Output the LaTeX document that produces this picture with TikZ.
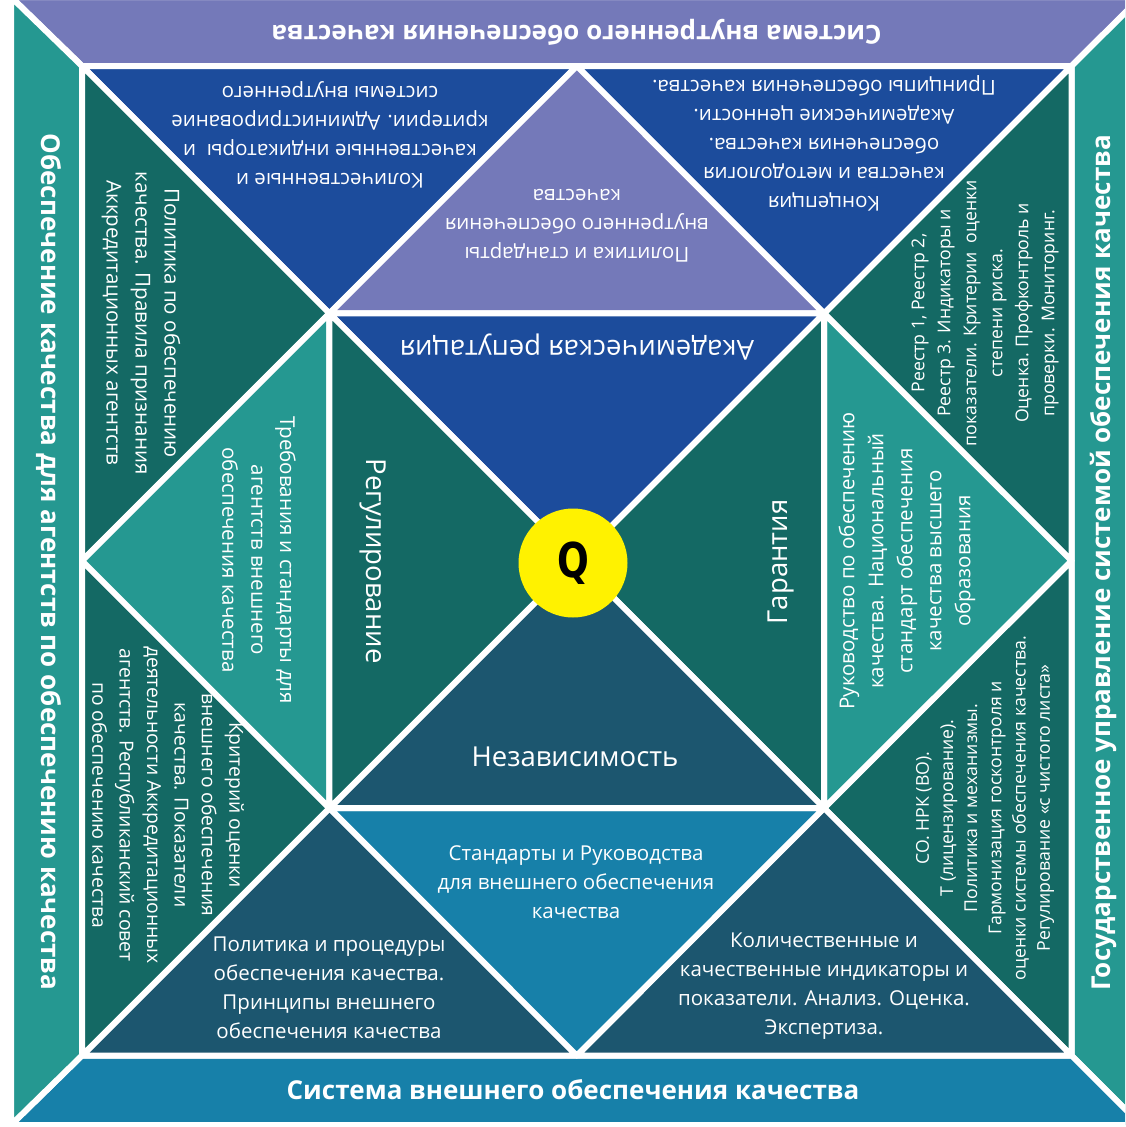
\documentclass[tikz,border=0pt]{standalone}
\usepackage{fontspec}
\usepackage{graphicx}
\setmainfont{Open Sans}
\newfontfamily\qfont{DejaVu Sans}
\definecolor{cpurple}{HTML}{7479B9}
\definecolor{cblue}{HTML}{1C4C9C}
\definecolor{cdgreen}{HTML}{146964}
\definecolor{cteal}{HTML}{259891}
\definecolor{cbblue}{HTML}{1780A9}
\definecolor{cslate}{HTML}{1C566F}
\begin{document}
\begin{tikzpicture}[x=1pt,y=-1pt,
  reg/.style={draw=white, line width=6pt, line join=round},
  txt/.style={text=white, align=center, inner sep=0pt, font=\fontsize{20.5}{29}\selectfont},
  txs/.style={text=white, align=center, inner sep=0pt, font=\fontsize{17.7}{26}\selectfont},
  txr/.style={text=white, align=center, inner sep=0pt, font=\fontsize{17.7}{24.2}\selectfont},
  txm/.style={text=white, align=center, inner sep=0pt, font=\fontsize{19.3}{27.4}\selectfont},
  ttl/.style={text=white, align=center, inner sep=0pt, font=\fontsize{26}{30}\selectfont\bfseries},
  big/.style={text=white, inner sep=0pt, font=\fontsize{27.5}{30}\selectfont}]
\useasboundingbox (0,0) rectangle (1125,1127);
\clip (0,0) rectangle (1125,1127);
% coordinates
\coordinate (O1) at (11,-3);
\coordinate (O2) at (1141,-3);
\coordinate (O3) at (1141,1125);
\coordinate (O4) at (11,1125);
\coordinate (I1) at (82,66);
\coordinate (I2) at (1071.5,66);
\coordinate (I3) at (1071.5,1055.5);
\coordinate (I4) at (82,1055.5);
\coordinate (T) at (576.75,66);
\coordinate (R) at (1071.5,560.75);
\coordinate (B) at (576.75,1055.5);
\coordinate (L) at (82,560.75);
\coordinate (C) at (576.75,560.75);
\coordinate (S1) at (329.4,313.4);
\coordinate (S2) at (824.1,313.4);
\coordinate (S3) at (824.1,808.1);
\coordinate (S4) at (329.4,808.1);
% outer bands
\path[reg, fill=cpurple] (O1) -- (O2) -- (I2) -- (I1) -- cycle;
\path[reg, fill=cteal] (O2) -- (O3) -- (I3) -- (I2) -- cycle;
\path[reg, fill=cbblue] (O3) -- (O4) -- (I4) -- (I3) -- cycle;
\path[reg, fill=cteal] (O4) -- (O1) -- (I1) -- (I4) -- cycle;
% corner triangles
\path[reg, fill=cblue] (I1) -- (T) -- (S1) -- cycle;
\path[reg, fill=cdgreen] (I1) -- (S1) -- (L) -- cycle;
\path[reg, fill=cblue] (T) -- (I2) -- (S2) -- cycle;
\path[reg, fill=cdgreen] (I2) -- (R) -- (S2) -- cycle;
\path[reg, fill=cdgreen] (R) -- (I3) -- (S3) -- cycle;
\path[reg, fill=cslate] (I3) -- (B) -- (S3) -- cycle;
\path[reg, fill=cslate] (B) -- (I4) -- (S4) -- cycle;
\path[reg, fill=cdgreen] (I4) -- (L) -- (S4) -- cycle;
% diamond triangles
\path[reg, fill=cpurple] (T) -- (S2) -- (S1) -- cycle;
\path[reg, fill=cteal] (R) -- (S3) -- (S2) -- cycle;
\path[reg, fill=cbblue] (B) -- (S4) -- (S3) -- cycle;
\path[reg, fill=cteal] (L) -- (S1) -- (S4) -- cycle;
% central triangles
\path[reg, fill=cblue] (S1) -- (S2) -- (C) -- cycle;
\path[reg, fill=cdgreen] (S2) -- (S3) -- (C) -- cycle;
\path[reg, fill=cslate] (S3) -- (S4) -- (C) -- cycle;
\path[reg, fill=cdgreen] (S4) -- (S1) -- (C) -- cycle;
% centre circle
\node[circle, fill=yellow, minimum size=109pt, inner sep=0pt] (q) at (573,563) {\qfont\fontsize{48}{48}\selectfont\bfseries\scalebox{0.78}[1]{Q}};
% titles
\node[ttl, rotate=180] (ttop) at (576.5,32) {Система внутреннего обеспечения качества};
\node[ttl] (tbot) at (573,1090) {Система внешнего обеспечения качества};
\node[ttl, rotate=-90] (tleft) at (49,562) {Обеспечение качества для агентств по обеспечению качества};
\node[ttl, rotate=90] (tright) at (1103,563) {Государственное управление системой обеспечения качества};
% central labels
\node[big, rotate=180] (acad) at (577,347) {Академическая репутация};
\node[big, rotate=-90] (regul) at (373,561) {Регулирование};
\node[big, rotate=90] (garant) at (781,562) {Гарантия};
\node[big] (indep) at (575,757) {Независимость};
% diamond triangles text
\node[txt, rotate=180] (polint) at (577,226) {Политика и стандарты\\внутреннего обеспечения\\качества};
\node[txt, rotate=-90] (treb) at (259,560) {Требования и стандарты для\\агентств внешнего\\обеспечения качества};
\node[txt, rotate=90] (ruk) at (907,561) {Руководство по обеспечению\\качества. Национальный\\стандарт обеспечения\\качества высшего\\образования};
\node[txt] (stand) at (576,882) {Стандарты и Руководства\\для внешнего обеспечения\\качества};
% corner texts
\node[txt, rotate=180] (kolint) at (330,135) {Количественные и\\качественные индикаторы\ \ и\\критерии. Администрирование\\системы внутреннего};
\node[txt, rotate=180] (konc) at (824,143) {Концепция\\качества и методология\\обеспечения качества.\\Академические ценности.\\Принципы обеспечения качества.};
\node[txt, rotate=-90] (polagen) at (141,323) {Политика по обеспечению\\качества. Правила признания\\Аккредитационных агентств};
\node[txm, rotate=-90] (krit) at (168,805) {Критерий оценки\\внешнего обеспечения\\качества. Показатели\\деятельности Аккредитационных\\агентств. Республиканский совет\\по обеспечению качества};
\node[txs, rotate=90] (reestr) at (985,313) {Реестр 1, Реестр 2,\\Реестр 3. Индикаторы и\\показатели. Критерии\ \ оценки\\степени риска.\\Оценка. Профконтроль и\\проверки. Мониторинг.};
\node[txr, rotate=90] (sonrk) at (985,808) {СО. НРК (ВО).\\Т (лицензирование).\\Политика и механизмы.\\Гармонизация госконтроля и\\оценки системы обеспечения качества.\\Регулирование «с чистого листа»};
\node[txt] (polproc) at (329,988) {Политика и процедуры\\обеспечения качества.\\Принципы внешнего\\обеспечения качества};
\node[txt] (kolext) at (824,986) {Количественные и\\качественные индикаторы и\\показатели. Анализ. Оценка.\\Экспертиза.};
\end{tikzpicture}
\end{document}
